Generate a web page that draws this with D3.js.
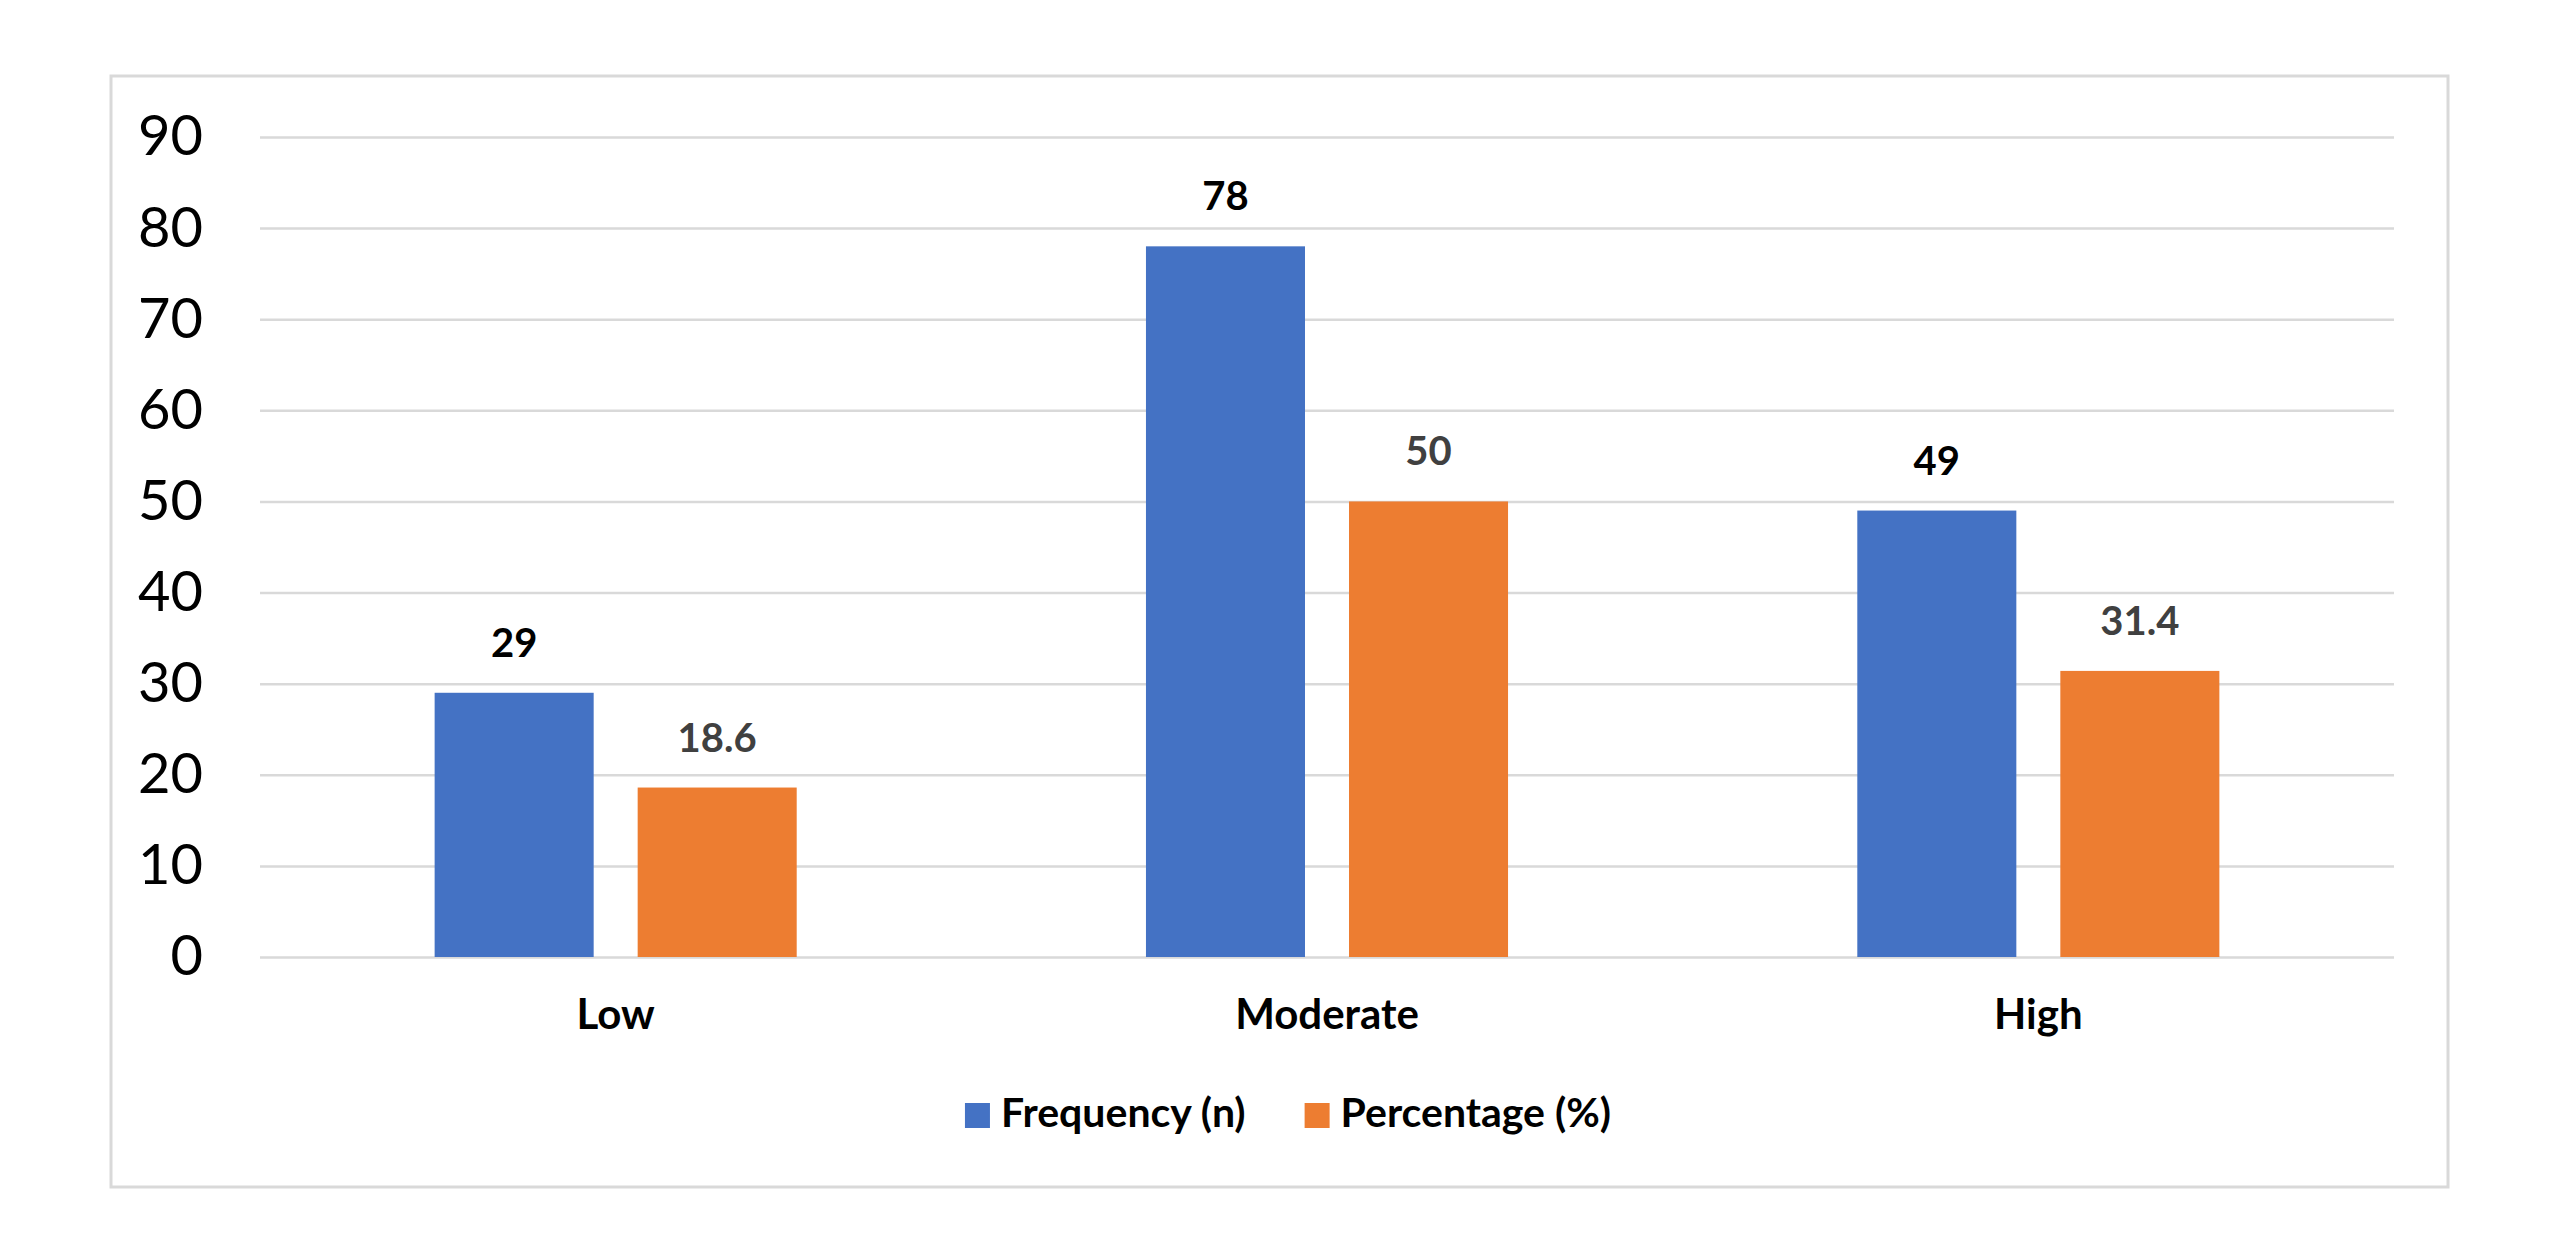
<!DOCTYPE html>
<html>
<head>
<meta charset="utf-8">
<script src="https://cdn.jsdelivr.net/npm/d3@7"></script>
<style>
  body { margin: 0; background: #fff; }
  svg text { font-family: Lato, "Open Sans", sans-serif; }
</style>
</head>
<body>
<svg id="chart" width="2560" height="1260"></svg>
<script>
// data
const categories = ["Low", "Moderate", "High"];
const seriesNames = ["Frequency (n)", "Percentage (%)"];
const frequency = [29, 78, 49];
const percentage = [18.6, 50, 31.4];
const yTicks = [0, 10, 20, 30, 40, 50, 60, 70, 80, 90];

const colors = ["#4472C4", "#ED7D31"];
const labelColors = ["#000000", "#404040"];

const rows = categories.map((c, i) => ({
    category: c,
    values: [
        { series: seriesNames[0], value: frequency[i] },
        { series: seriesNames[1], value: percentage[i] }
    ]
}));

const svg = d3.select("#chart");

// outer chart border
svg.append("rect")
    .attr("x", 111).attr("y", 76)
    .attr("width", 2337).attr("height", 1111)
    .attr("fill", "#fff")
    .attr("stroke", "#D9D9D9")
    .attr("stroke-width", 3);

const plot = { left: 260, right: 2394, top: 137, bottom: 957 };

const y = d3.scaleLinear()
    .domain([0, 90])
    .range([plot.bottom, plot.top]);

const x0 = d3.scaleBand()
    .domain(categories)
    .range([plot.left, plot.right])
    .paddingInner(0.491)
    .paddingOuter(0.2455);

const x1 = d3.scaleBand()
    .domain(seriesNames)
    .range([0, x0.bandwidth()])
    .paddingInner(0.2167);

// gridlines + y labels
const yAxis = svg.append("g")
    .attr("transform", `translate(${plot.left},0)`)
    .call(d3.axisLeft(y).tickValues(yTicks).tickSize(-(plot.right - plot.left)).tickPadding(57));
yAxis.select(".domain").remove();
yAxis.selectAll(".tick line")
    .attr("stroke", "#D9D9D9")
    .attr("stroke-width", 2.5);
yAxis.selectAll(".tick text")
    .attr("fill", "#000")
    .style("font-size", "56px")
    .style("font-family", "Lato, 'Open Sans', sans-serif");

// bars
const groups = svg.selectAll(".grp")
    .data(rows)
    .enter()
    .append("g")
    .attr("class", "grp")
    .attr("transform", d => `translate(${x0(d.category)},0)`);

groups.selectAll("rect")
    .data(d => d.values)
    .enter()
    .append("rect")
    .attr("x", d => x1(d.series))
    .attr("y", d => y(d.value))
    .attr("width", x1.bandwidth())
    .attr("height", d => y(0) - y(d.value))
    .attr("fill", (d, i) => colors[i]);

// value labels
groups.selectAll(".val")
    .data(d => d.values)
    .enter()
    .append("text")
    .attr("class", "val")
    .attr("x", d => x1(d.series) + x1.bandwidth() / 2)
    .attr("y", d => y(d.value) - 36)
    .attr("text-anchor", "middle")
    .attr("fill", (d, i) => labelColors[i])
    .style("font-size", "40px")
    .style("font-weight", "bold")
    .text(d => d.value);

// category labels
svg.append("g")
    .selectAll("text")
    .data(categories)
    .enter()
    .append("text")
    .attr("x", d => x0(d) + x0.bandwidth() / 2)
    .attr("y", 1029)
    .attr("text-anchor", "middle")
    .attr("fill", "#000")
    .style("font-size", "42px")
    .style("font-weight", "bold")
    .text(d => d);

// legend
const legend = svg.append("g").attr("transform", "translate(0,1127)");
const items = legend.selectAll("g")
    .data(seriesNames)
    .enter()
    .append("g");
items.append("rect")
    .attr("y", -24)
    .attr("width", 25)
    .attr("height", 25)
    .attr("fill", (d, i) => colors[i]);
items.append("text")
    .attr("x", 36)
    .attr("fill", "#000")
    .style("font-size", "41px")
    .style("font-weight", "bold")
    .text(d => d);

let widths = [];
items.each(function () { widths.push(this.getBBox().width); });
const itemGap = 59;
const total = d3.sum(widths) + itemGap;
let cx = 1288 - total / 2;
items.attr("transform", (d, i) => {
    const t = `translate(${cx},0)`;
    cx += widths[i] + itemGap;
    return t;
});
</script>
</body>
</html>
